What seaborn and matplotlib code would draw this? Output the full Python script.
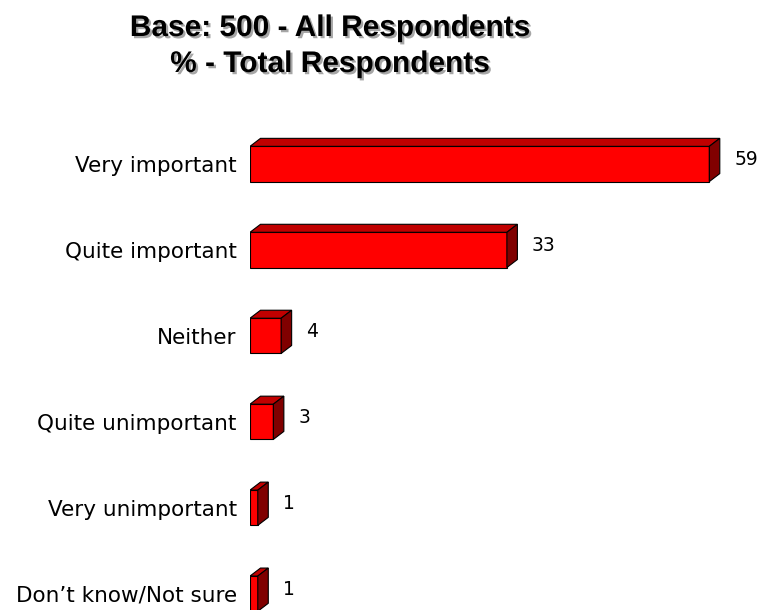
import matplotlib
matplotlib.use("Agg")
import matplotlib.pyplot as plt
from matplotlib.patches import Polygon
import matplotlib.patheffects as pe
import seaborn as sns
import pandas as pd

categories = ["Very important", "Quite important", "Neither",
              "Quite unimportant", "Very unimportant", "Don\u2019t know/Not sure"]
values = [59, 33, 4, 3, 1, 1]
title_lines = ["Base: 500 - All Respondents", "% - Total Respondents"]

FRONT = "#FF0000"
TOP = "#C00000"
SIDE = "#800000"

W, H, DPI = 759, 610, 100
sns.set_theme(style="white")
plt.rcParams["font.family"] = ["DejaVu Sans"]

fig = plt.figure(figsize=(W / DPI, H / DPI), dpi=DPI)

# axes geometry in pixels
ax_left, ax_right = 250, 756
ax_top, ax_bottom = 121, 610
ax = fig.add_axes([ax_left / W, (H - ax_bottom) / H,
                   (ax_right - ax_left) / W, (ax_bottom - ax_top) / H])

df = pd.DataFrame({"category": categories, "value": values})
sns.barplot(data=df, x="value", y="category", orient="h", color=FRONT,
            saturation=1, width=0.41, edgecolor="black", linewidth=0.8,
            ax=ax, zorder=3)

xmax = 65.0
ymin, ymax = -0.5, 5.19
ax.set_xlim(0, xmax)
ax.set_ylim(ymax, ymin)

# pixel -> data scale factors for the 3D extrusion
px_x = (ax_right - ax_left) / xmax
px_y = (ax_bottom - ax_top) / (ymax - ymin)
dx = 10.5 / px_x
dy = 8.0 / px_y
gap = 14.5 / px_x

for patch, val in zip(ax.patches, values):
    x0 = patch.get_x()
    x1 = x0 + patch.get_width()
    ya = patch.get_y()
    yb = ya + patch.get_height()
    y_top, y_bot = min(ya, yb), max(ya, yb)
    top = Polygon([(x0, y_top), (x1, y_top), (x1 + dx, y_top - dy), (x0 + dx, y_top - dy)],
                  closed=True, facecolor=TOP, edgecolor="black", linewidth=0.8, zorder=3)
    side = Polygon([(x1, y_top), (x1, y_bot), (x1 + dx, y_bot - dy), (x1 + dx, y_top - dy)],
                   closed=True, facecolor=SIDE, edgecolor="black", linewidth=0.8, zorder=3)
    ax.add_patch(top)
    ax.add_patch(side)
    yc = (y_top + y_bot) / 2 - dy / 2
    ax.text(x1 + dx + gap, yc, f"{val}", ha="left", va="center",
            fontsize=13.5, color="black", zorder=4)

for s in ax.spines.values():
    s.set_visible(False)
ax.set_xlabel("")
ax.set_ylabel("")
ax.set_xticks([])
ax.tick_params(axis="y", length=0, pad=9.5, labelsize=15.5, labelcolor="black")

shadow = [pe.SimplePatchShadow(offset=(1.6, -1.6), shadow_rgbFace="#808080", alpha=0.7),
          pe.Normal()]
for line, base_px in zip(title_lines, [36, 72]):
    fig.text(330 / W, 1 - base_px / H, line, ha="center", va="baseline",
             fontsize=21.5, fontweight="bold", family=["Liberation Sans"],
             color="black", path_effects=shadow)

fig.savefig("out.png", dpi=DPI)
